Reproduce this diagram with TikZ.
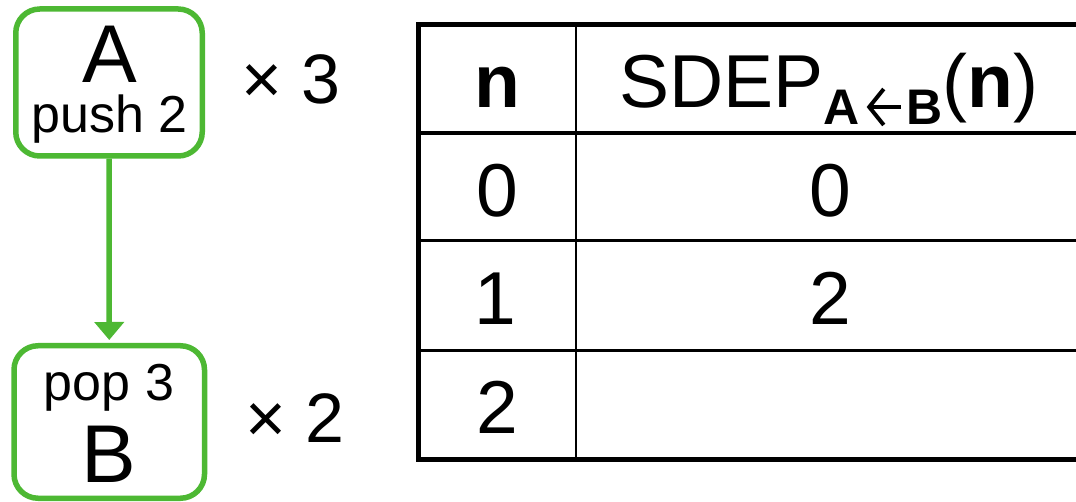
\documentclass[tikz,border=0pt]{standalone}
\usepackage{fontspec}
\setmainfont{Liberation Sans}
\usetikzlibrary{arrows.meta}
\definecolor{grn}{RGB}{77,184,51}
\newcommand{\fsz}[1]{\fontsize{#1}{#1}\selectfont}
\newcommand{\subarrow}{\tikz[baseline=0pt,x=1pt,y=1pt]{\draw[line width=4pt,line cap=butt] (2,18)--(34,18); \draw[line width=4pt,line join=miter] (17,36)--(2.5,18)--(17,0);}}
\begin{document}
\begin{tikzpicture}[x=1pt,y=-1pt,
  box/.style={draw=grn, line width=5.5pt, rounded corners=24pt, inner sep=0pt},
  txt/.style={inner sep=0pt, anchor=base},
  big/.style={txt, font=\fsz{82}},
  small/.style={txt, font=\fsz{52}},
  mult/.style={txt, font=\fsz{70}},
  cell/.style={txt, font=\fsz{75}},
  outer/.style={line width=5pt},
  rowline/.style={line width=3.3pt},
  colline/.style={line width=2.3pt},
  flow/.style={draw=grn, line width=5.5pt, -{Triangle[width=29pt,length=18pt]}, shorten >=3pt}]
\useasboundingbox (0,0) rectangle (1076,502);
\clip (0,0) rectangle (1076,502);
% boxes
\node[box, minimum width=186.5pt, minimum height=147pt] (A) at (109,82.5) {};
\node[box, minimum width=190.5pt, minimum height=152.5pt] (B) at (109.25,422) {};
\node[big] (Aname) at (109.5,83) {A};
\node[small] (Apush) at (109.5,133) {push 2};
\node[small] (Bpop) at (109,400) {pop 3};
\node[big] (Bname) at (109,482) {B};
\node[mult] (Am) at (291,104) {× 3};
\node[mult] (Bm) at (295,442) {× 2};
\draw[flow] (A.south) -- (B.north);
% table
\coordinate (TL) at (418,24.5);
\coordinate (BR) at (1084,459.5);
\draw[rowline] (418,133) -- (1084,133);
\draw[rowline] (418,240.5) -- (1084,240.5);
\draw[rowline] (418,350.5) -- (1084,350.5);
\draw[colline] (576,24.5) -- (576,459.5);
\draw[outer] (TL) rectangle (BR);
\node[cell, font=\fsz{75}\bfseries] (hn) at (497.5,108) {n};
\node[cell] (hs) at (829,108) {SDEP\raisebox{-17pt}{\fsz{50}\bfseries A\hspace{7pt}\subarrow\hspace{4pt}B}(\textbf{n})};
\node[cell] (n0) at (497,217) {0};
\node[cell] (s0) at (830,217) {0};
\node[cell] (n1) at (495,325) {1};
\node[cell] (s1) at (830,325) {2};
\node[cell] (n2) at (497,433) {2};
\end{tikzpicture}
\end{document}
